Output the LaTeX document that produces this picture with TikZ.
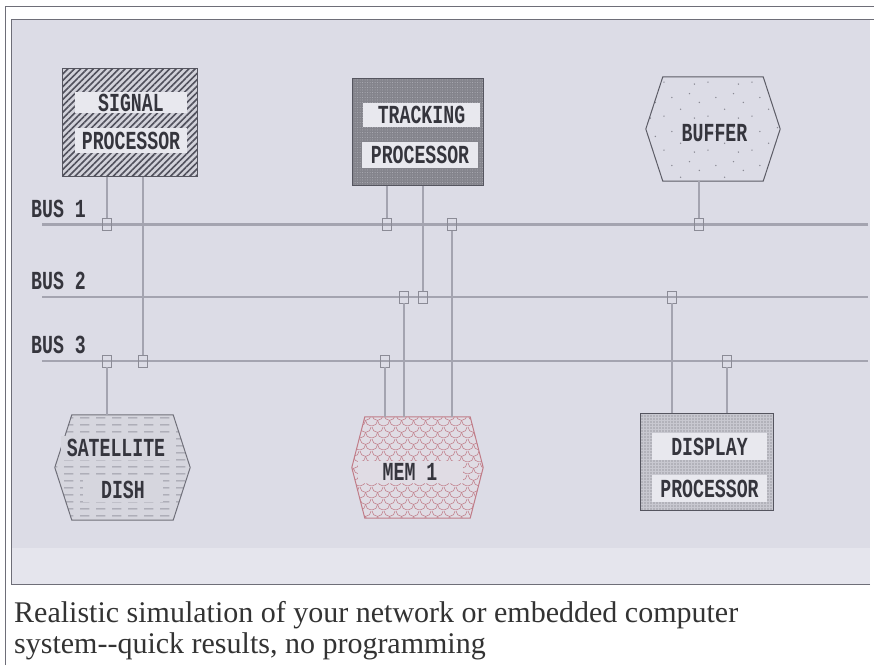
\documentclass[tikz,border=0pt]{standalone}
\usepackage{fontspec}
\setmainfont{Liberation Serif}
\newfontfamily\scrfont{Liberation Mono}[FakeStretch=0.7]
\usetikzlibrary{patterns.meta}

\definecolor{scrbg}{HTML}{DCDCE6}
\definecolor{scrlow}{HTML}{E5E5ED}
\definecolor{scredge}{HTML}{6E6E78}
\definecolor{busgray}{HTML}{A4A4B0}
\definecolor{ink}{HTML}{35353D}
\definecolor{stripbg}{HTML}{E8E8EE}
\definecolor{boxline}{HTML}{55555F}
\definecolor{sigbg}{HTML}{D2D2DA}
\definecolor{hatch}{HTML}{50505C}
\definecolor{trkbg}{HTML}{84848C}
\definecolor{trkdot}{HTML}{B0B0B8}
\definecolor{dspbg}{HTML}{C8C8D0}
\definecolor{dspdot}{HTML}{6A6A74}
\definecolor{bufline}{HTML}{5C5C66}
\definecolor{speck}{HTML}{8A8A94}
\definecolor{satbg}{HTML}{D6D6DE}
\definecolor{satline}{HTML}{70707A}
\definecolor{satdash}{HTML}{9A9AA4}
\definecolor{membg}{HTML}{E0DCE4}
\definecolor{memline}{HTML}{C07C88}
\definecolor{capink}{HTML}{333333}

\newcommand\scrlabel{\scrfont\bfseries\fontsize{26}{26}\selectfont}
\newcommand\caplabel{\fontsize{30}{31}\selectfont}

% fill textures
\tikzdeclarepattern{
  name=scales,
  type=uncolored,
  bounding box={(0pt,0pt) and (12pt,12pt)},
  tile size={(12pt,12pt)},
  code={
    \draw[line width=0.6pt] (0pt,12pt) arc[start angle=180,end angle=360,radius=6pt];
    \draw[line width=0.6pt] (-6pt,6pt) arc[start angle=180,end angle=360,radius=6pt];
    \draw[line width=0.6pt] (6pt,6pt) arc[start angle=180,end angle=360,radius=6pt];
  }
}
\tikzdeclarepattern{
  name=dashrows,
  type=uncolored,
  bounding box={(0pt,0pt) and (16pt,7pt)},
  tile size={(16pt,7pt)},
  code={
    \fill (0pt,3pt) rectangle (10pt,4.2pt);
  }
}
\tikzdeclarepattern{
  name=specks,
  type=uncolored,
  bounding box={(0pt,0pt) and (44pt,34pt)},
  tile size={(44pt,34pt)},
  code={
    \fill (4pt,5pt) circle[radius=0.8pt];
    \fill (21pt,12pt) circle[radius=0.8pt];
    \fill (35pt,3pt) circle[radius=0.8pt];
    \fill (12pt,24pt) circle[radius=0.8pt];
    \fill (30pt,28pt) circle[radius=0.8pt];
    \fill (40pt,19pt) circle[radius=0.8pt];
  }
}

% hexagon round a named node: node, chamfer, options
\newcommand\hexoutline[3]{%
  \path[#3] (#1.west) -- ([xshift=#2]#1.north west) -- ([xshift=-#2]#1.north east)
    -- (#1.east) -- ([xshift=-#2]#1.south east) -- ([xshift=#2]#1.south west) -- cycle;}

\begin{document}
\begin{tikzpicture}[x=1pt, y=-1pt,
  procbox/.style={draw=boxline, line width=1pt, inner sep=0pt},
  hexframe/.style={inner sep=0pt},
  strip/.style={fill=stripbg, inner sep=0pt, font=\scrlabel, text=ink},
  buslabel/.style={font=\scrlabel, text=ink, anchor=west, inner sep=0pt},
  tap/.style={draw=busgray!85!black, line width=0.8pt, minimum width=9pt,
    minimum height=12pt, inner sep=0pt},
  bus/.style={draw=busgray, line width=2.6pt},
  wire/.style={draw=busgray, line width=2.4pt},
  hatchfill/.style={preaction={fill=sigbg},
    pattern={Lines[angle=45,distance=4.5pt,line width=1.6pt]}, pattern color=hatch},
  stipplefill/.style={preaction={fill=trkbg},
    pattern={Dots[distance=2.5pt,radius=0.5pt]}, pattern color=trkdot},
  dotfill/.style={preaction={fill=dspbg},
    pattern={Dots[distance=3pt,radius=0.7pt]}, pattern color=dspdot},
  specksfill/.style={preaction={fill=scrbg}, pattern=specks, pattern color=speck},
  dashfill/.style={preaction={fill=satbg}, pattern=dashrows, pattern color=satdash},
  scalefill/.style={preaction={fill=membg}, pattern=scales, pattern color=memline},
  capline/.style={font=\caplabel, text=capink, anchor=base west, inner sep=0pt},
]
  \useasboundingbox (0,0) rectangle (874,665);

  % Screen
  \fill[white] (0,0) rectangle (874,665);
  \draw[scredge, line width=0.8pt] (5,665) -- (5,6) -- (874,6);
  \fill[scrbg] (11,19) rectangle (870,584);
  \fill[scrlow] (11,548) rectangle (870,584);
  \draw[scredge, line width=1pt] (870,584) -- (11,584) -- (11,19) -- (874,19);

  % Buses
  \foreach \n/\y in {1/224.5, 2/297, 3/361} {
    \coordinate (bus\n w) at (42,\y);
    \coordinate (bus\n e) at (868,\y);
    \draw[bus] (bus\n w) -- (bus\n e);
    \node[buslabel] (lbl\n) at (31,\y-16) {BUS \n};
  }

  % Taps
  \node[tap] (tSig1) at (107,224.5) {};
  \node[tap] (tSig3) at (143,361) {};
  \node[tap] (tSat3) at (107,361) {};
  \node[tap] (tTrk1) at (387,224.5) {};
  \node[tap] (tTrk2) at (423,297) {};
  \node[tap] (tMem1) at (452,224.5) {};
  \node[tap] (tMem2) at (404,297) {};
  \node[tap] (tMem3) at (385,361) {};
  \node[tap] (tBuf1) at (699,224.5) {};
  \node[tap] (tDsp2) at (672,297) {};
  \node[tap] (tDsp3) at (727,361) {};

  % Signal processor
  \node[procbox, hatchfill, minimum width=135pt, minimum height=108pt] (sig) at (129.5,122) {};
  \node[strip, minimum width=112pt, minimum height=21pt] (sigA) at (131,102.5) {SIGNAL};
  \node[strip, minimum width=112pt, minimum height=25pt] (sigB) at (131,140.5) {PROCESSOR};

  % Tracking processor
  \node[procbox, stipplefill, minimum width=131pt, minimum height=107pt] (trk) at (417.5,131.5) {};
  \node[strip, minimum width=117pt, minimum height=24pt] (trkA) at (421.5,115) {TRACKING};
  \node[strip, minimum width=116pt, minimum height=26pt] (trkB) at (420,155) {PROCESSOR};

  % Buffer
  \node[hexframe, minimum width=134pt, minimum height=104pt] (buf) at (713,129) {};
  \hexoutline{buf}{17pt}{draw=bufline, line width=1pt, specksfill}
  \node[font=\scrlabel, text=ink, inner sep=0pt] (bufT) at (714.5,133) {BUFFER};

  % Satellite dish
  \node[hexframe, minimum width=135pt, minimum height=105pt] (sat) at (122.5,467.5) {};
  \hexoutline{sat}{17pt}{draw=satline, line width=1pt, dashfill}
  \node[strip, fill=satbg, minimum width=110pt, minimum height=24pt] (satA) at (116,448) {SATELLITE};
  \node[strip, fill=satbg, minimum width=80pt, minimum height=24pt] (satB) at (123,490) {DISH};

  % Memory
  \node[hexframe, minimum width=131pt, minimum height=101pt] (mem) at (417.5,467.5) {};
  \hexoutline{mem}{13pt}{draw=memline, line width=1pt, scalefill}
  \node[strip, fill=membg, minimum width=105pt, minimum height=22pt] (memT) at (410,472) {MEM 1};

  % Display processor
  \node[procbox, dotfill, minimum width=133pt, minimum height=97pt] (dsp) at (706.5,461.5) {};
  \node[strip, minimum width=115pt, minimum height=27pt] (dspA) at (709.5,446.5) {DISPLAY};
  \node[strip, minimum width=115pt, minimum height=27pt] (dspB) at (709.5,488.5) {PROCESSOR};

  % Connections
  \draw[wire] (sig.south -| tSig1) -- (tSig1);
  \draw[wire] (sig.south -| tSig3) -- (tSig3);
  \draw[wire] (tSat3) -- (tSat3 |- sat.north);
  \draw[wire] (trk.south -| tTrk1) -- (tTrk1);
  \draw[wire] (trk.south -| tTrk2) -- (tTrk2);
  \draw[wire] (tMem1) -- (tMem1 |- mem.north);
  \draw[wire] (tMem2) -- (tMem2 |- mem.north);
  \draw[wire] (tMem3) -- (tMem3 |- mem.north);
  \draw[wire] (buf.south -| tBuf1) -- (tBuf1);
  \draw[wire] (tDsp2) -- (tDsp2 |- dsp.north);
  \draw[wire] (tDsp3) -- (tDsp3 |- dsp.north);

  % Caption
  \node[capline] (cap1) at (14,622) {Realistic simulation of your network or embedded computer};
  \node[capline] (cap2) at (14,653) {system-\kern0pt-quick results, no programming};
\end{tikzpicture}
\end{document}
